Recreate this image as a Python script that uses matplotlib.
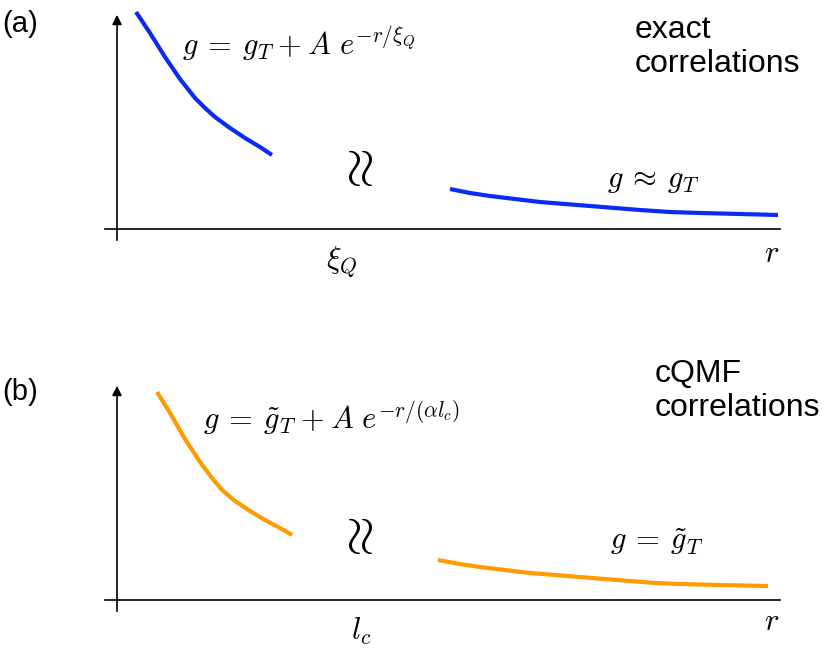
import matplotlib
matplotlib.use('Agg')
import matplotlib.pyplot as plt

plt.rcParams['mathtext.fontset'] = 'cm'
plt.rcParams['font.family'] = ['Liberation Sans', 'DejaVu Sans']

# curve samples (x = r, y = g, image pixel units)
r_a_short = [136, 150, 165, 180, 195, 205, 215, 230, 245, 260, 272]
g_a_short = [12, 33, 57, 79, 98, 108, 117, 128, 138, 147, 155]
r_a_long = [450, 470, 490, 515, 540, 565, 590, 615, 640, 670, 700, 740, 778]
g_a_long = [189, 193, 196, 199, 202, 204, 206, 208, 210, 212, 213, 214, 215]

r_b_short = [157, 170, 185, 200, 212, 222, 235, 250, 265, 280, 292]
g_b_short = [392, 413, 439, 462, 478, 490, 501, 511, 520, 528, 535]
r_b_long = [438, 460, 480, 505, 530, 555, 580, 605, 630, 655, 680, 720, 768]
g_b_long = [560, 564, 567, 570, 573, 575, 577, 579, 581, 583, 584, 585, 586]

panel_labels = ['(a)', '(b)']
titles = ['exact\ncorrelations', 'cQMF\ncorrelations']
formulas = [r'$g\:=\:g_T\:+\:A\ e^{-r/\xi_Q}$',
            r'$g\:=\:\tilde{g}_T\:+\:A\ e^{-r/(\alpha l_c)}$']
tails = [r'$g\:\approx\:g_T$', r'$g\:=\:\tilde{g}_T$']
scales = [r'$\xi_Q$', r'$l_c$']

fig = plt.figure(figsize=(8.31, 6.49), dpi=100)
ax = fig.add_axes([0, 0, 1, 1])
ax.set_xlim(0, 831)
ax.set_ylim(649, 0)
ax.axis('off')

blue = '#0a2af5'
orange = '#ff9a00'

ax.plot(r_a_short, g_a_short, color=blue, lw=3, solid_capstyle='butt')
ax.plot(r_a_long, g_a_long, color=blue, lw=3, solid_capstyle='butt')
ax.plot(r_b_short, g_b_short, color=orange, lw=3, solid_capstyle='butt')
ax.plot(r_b_long, g_b_long, color=orange, lw=3, solid_capstyle='butt')

# axes of each panel: (y of x-axis, top of y-axis)
for base, top in [(229, 12), (600, 383)]:
    ax.plot([105, 780], [base, base], color='black', lw=1.2)
    ax.plot([117, 117], [base + 11, top + 8], color='black', lw=1.2)
    ax.annotate('', xy=(117, top), xytext=(117, top + 12),
                arrowprops=dict(arrowstyle='-|>', color='black', lw=1.2,
                                mutation_scale=14))

for i, off in enumerate([0, 368]):
    ax.text(2, 24 + off, panel_labels[i], fontsize=21, va='center', ha='left')
    ax.text(360, 173 + off, r'$\approx$', fontsize=38, rotation=90,
            ha='center', va='center')
    ax.text(772, 254 + off, r'$r$', fontsize=22, ha='center', va='center')

ax.text(635, 47, titles[0], fontsize=23, ha='left', va='center', linespacing=1.2)
ax.text(655, 391, titles[1], fontsize=23, ha='left', va='center', linespacing=1.2)
ax.text(182, 44, formulas[0], fontsize=22, ha='left', va='center')
ax.text(203, 418, formulas[1], fontsize=22, ha='left', va='center')
ax.text(607, 180, tails[0], fontsize=22, ha='left', va='center')
ax.text(610, 542, tails[1], fontsize=22, ha='left', va='center')
ax.text(342, 262, scales[0], fontsize=22, ha='center', va='center')
ax.text(361, 631, scales[1], fontsize=22, ha='center', va='center')

fig.savefig('out.png', dpi=100)
